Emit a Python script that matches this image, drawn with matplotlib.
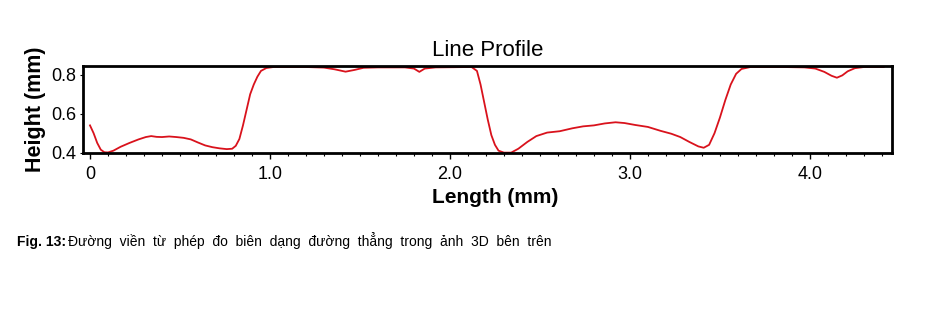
import matplotlib.pyplot as plt
from matplotlib.ticker import MultipleLocator

plt.rcParams['font.family'] = ['Liberation Sans', 'DejaVu Sans']

# profile (mm)
length = [0.00, 0.02, 0.04, 0.06, 0.08, 0.10, 0.13, 0.17, 0.22, 0.27,
          0.31, 0.34, 0.37, 0.40, 0.44, 0.48, 0.52, 0.56, 0.60, 0.64,
          0.68, 0.72, 0.76, 0.79, 0.81, 0.83, 0.85, 0.87, 0.89, 0.91,
          0.93, 0.95, 0.98, 1.02, 1.20, 1.30, 1.36, 1.42, 1.47, 1.52,
          1.60, 1.75, 1.80, 1.83, 1.86, 1.92, 2.12, 2.15, 2.17, 2.19,
          2.21, 2.23, 2.25, 2.27, 2.30, 2.34, 2.38, 2.43, 2.48, 2.54,
          2.61, 2.68, 2.74, 2.80, 2.86, 2.92, 2.97, 3.03, 3.10, 3.17,
          3.23, 3.28, 3.33, 3.38, 3.41, 3.44, 3.47, 3.50, 3.53, 3.56,
          3.59, 3.62, 3.67, 3.85, 3.97, 4.03, 4.08, 4.12, 4.15, 4.18,
          4.21, 4.25, 4.30, 4.41]
height = [0.540, 0.500, 0.450, 0.415, 0.402, 0.401, 0.410, 0.430, 0.450, 0.468,
          0.480, 0.485, 0.481, 0.480, 0.483, 0.480, 0.476, 0.468, 0.452, 0.437,
          0.428, 0.422, 0.418, 0.420, 0.435, 0.470, 0.540, 0.620, 0.700, 0.750,
          0.790, 0.820, 0.835, 0.840, 0.840, 0.837, 0.828, 0.816, 0.825, 0.836,
          0.838, 0.838, 0.832, 0.815, 0.832, 0.838, 0.840, 0.820, 0.750, 0.660,
          0.570, 0.490, 0.440, 0.410, 0.400, 0.400, 0.420, 0.455, 0.485, 0.503,
          0.510, 0.525, 0.535, 0.540, 0.550, 0.556, 0.552, 0.542, 0.532, 0.512,
          0.497, 0.480, 0.455, 0.432, 0.425, 0.440, 0.500, 0.580, 0.670, 0.750,
          0.805, 0.830, 0.840, 0.840, 0.838, 0.832, 0.815, 0.795, 0.785, 0.797,
          0.818, 0.834, 0.840, 0.840]

x_ticks = [0, 1, 2, 3, 4]
x_labels = ['0', '1.0', '2.0', '3.0', '4.0']
y_ticks = [0.4, 0.6, 0.8]
y_labels = ['0.4', '0.6', '0.8']

fig = plt.figure(figsize=(9.25, 3.14), dpi=100)
ax = fig.add_axes([0.0897, 0.5127, 0.8746, 0.277])
ax.plot(length, height, color='#d9121c', lw=1.3)

ax.set_xlim(-0.039, 4.456)
ax.set_ylim(0.398, 0.845)
ax.set_xticks(x_ticks)
ax.set_xticklabels(x_labels)
ax.xaxis.set_minor_locator(MultipleLocator(0.1))
ax.set_yticks(y_ticks)
ax.set_yticklabels(y_labels)
ax.tick_params(axis='x', which='major', length=4, width=1, labelsize=13, pad=5)
ax.tick_params(axis='x', which='minor', length=2.5, width=0.8)
ax.tick_params(axis='y', length=2.5, width=0.8, labelsize=13, pad=2)
for s in ax.spines.values():
    s.set_linewidth(2)

ax.set_title('Line Profile', fontsize=16, pad=7)
ax.set_xlabel('Length (mm)', fontsize=15, fontweight='bold', labelpad=4)
ax.xaxis.label.set_x(0.509)
ax.set_ylabel('Height (mm)', fontsize=15.5, fontweight='bold', labelpad=4)

# caption below the chart
fig.text(0.018, 0.218, 'Fig. 13:', fontsize=10, fontweight='bold', va='baseline')
fig.text(0.073, 0.218, 'Đường  viền  từ  phép  đo  biên  dạng  đường  thẳng  trong  ảnh  3D  bên  trên',
         fontsize=10, va='baseline', family=['Liberation Sans Narrow', 'Liberation Sans', 'DejaVu Sans'])

fig.savefig('out.png', dpi=100)
